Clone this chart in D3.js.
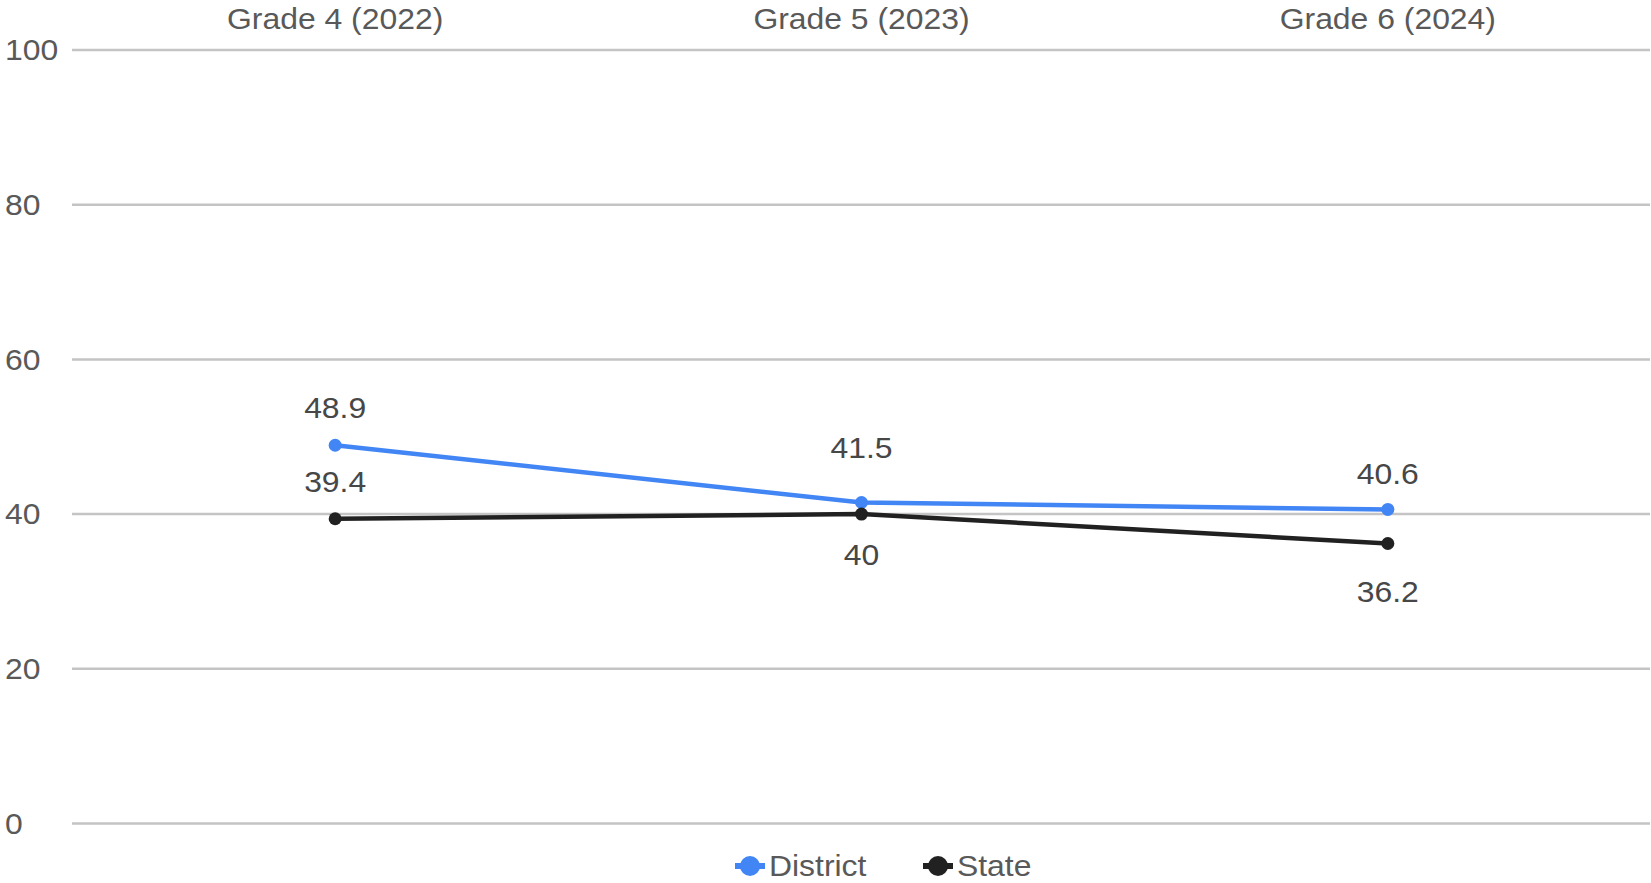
<!DOCTYPE html>
<html><head><meta charset="utf-8">
<script src="https://cdn.jsdelivr.net/npm/d3@7"></script>
<style>html,body{margin:0;padding:0;background:#fff;}svg{display:block;font-family:Arial,"Liberation Sans",sans-serif;}</style>
</head><body>
<svg id="c" width="1651" height="883"></svg>
<script>
const categories = ["Grade 4 (2022)", "Grade 5 (2023)", "Grade 6 (2024)"];
const districtValues = [48.9, 41.5, 40.6];
const stateValues = [39.4, 40, 36.2];
const yTicks = [0, 20, 40, 60, 80, 100];
const seriesNames = ["District", "State"];

// label placement (layout, not data): dy from point to label baseline
const labelDy = {District: [-27, -44, -25], State: [-27, 51, 59]};
const SX = 1.1; // horizontal text stretch seen in the reference

const svg = d3.select("#c");
const x = d3.scaleBand().domain(categories).range([72, 1651]).padding(0);
const y = d3.scaleLinear().domain([0, 100]).range([823.5, 50]);

const colors = {District: "#4285F4", State: "#212121"};
const series = [
  {name: seriesNames[0], values: districtValues},
  {name: seriesNames[1], values: stateValues}
];
const tr = (px, py) => `translate(${px},${py}) scale(${SX},1)`;

// gridlines
svg.append("g").selectAll("line").data(yTicks).join("line")
  .attr("x1", 72).attr("x2", 1650)
  .attr("y1", d => y(d)).attr("y2", d => y(d))
  .attr("stroke", "#c4c4c4").attr("stroke-width", 2.5);

// y axis labels
svg.append("g").selectAll("text").data(yTicks).join("text")
  .attr("transform", d => tr(5, y(d))).attr("dy", "0.35em")
  .attr("font-size", 29).attr("fill", "#595959").text(d => d);

// top category labels
const xAxis = d3.axisTop(x).tickSize(0).tickPadding(0);
const gx = svg.append("g").attr("transform", "translate(0,29)").call(xAxis);
gx.select(".domain").remove();
gx.selectAll("text").attr("font-size", 29).attr("fill", "#595959")
  .attr("font-family", "Arial, 'Liberation Sans', sans-serif").attr("dy", 0)
  .attr("transform", `scale(${SX},1)`);

const cx = d => x(d) + x.bandwidth() / 2;
const line = d3.line().x((d, i) => cx(categories[i])).y(d => y(d));

series.forEach(s => {
  const g = svg.append("g");
  g.append("path").datum(s.values).attr("d", line)
    .attr("fill", "none").attr("stroke", colors[s.name]).attr("stroke-width", 4.5)
    .attr("stroke-linejoin", "round");
  g.selectAll("circle").data(s.values).join("circle")
    .attr("cx", (d, i) => cx(categories[i])).attr("cy", d => y(d)).attr("r", 6.5)
    .attr("fill", colors[s.name]);
});
series.forEach(s => {
  svg.append("g").selectAll("text").data(s.values).join("text")
    .attr("transform", (d, i) => tr(cx(categories[i]), y(d) + labelDy[s.name][i]))
    .attr("text-anchor", "middle").attr("font-size", 29).attr("fill", "#474747")
    .text(d => d);
});

// legend
const legend = svg.append("g");
const legendItems = [{name: "District", x: 750}, {name: "State", x: 938}];
legendItems.forEach(li => {
  const g = legend.append("g").attr("transform", `translate(${li.x},866)`);
  g.append("line").attr("x1", -15).attr("x2", 15).attr("stroke", colors[li.name]).attr("stroke-width", 6);
  g.append("circle").attr("r", 10).attr("fill", colors[li.name]);
  g.append("text").attr("transform", tr(19, 0)).attr("dy", "0.35em").attr("font-size", 29)
    .attr("fill", "#595959").text(li.name);
});
</script>
</body></html>
